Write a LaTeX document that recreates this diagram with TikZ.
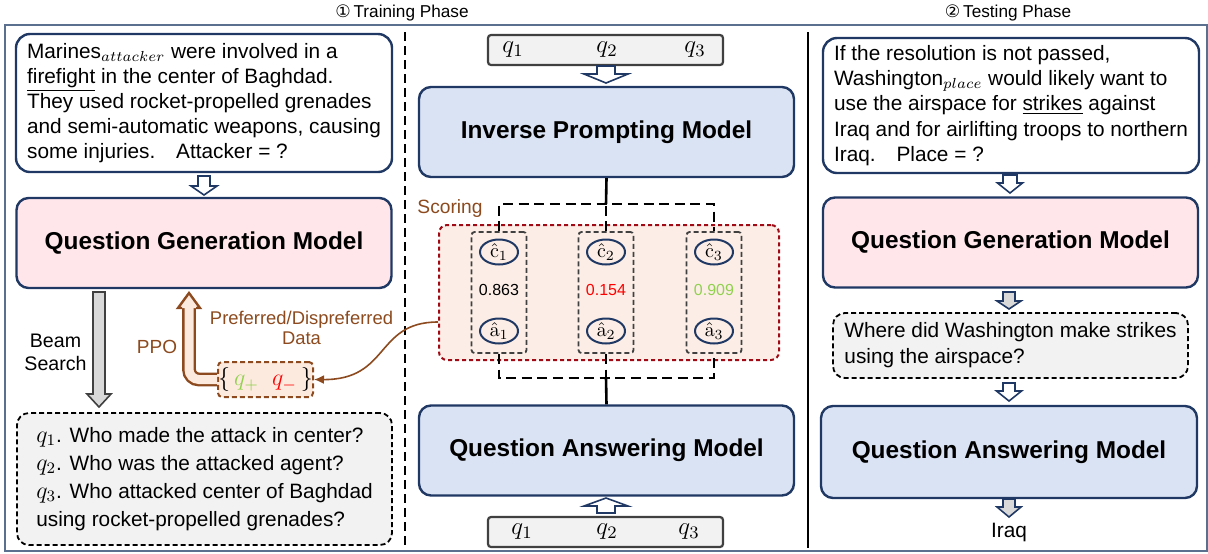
\RequirePackage{fix-cm}
\documentclass[tikz,border=0pt]{standalone}
\usepackage[no-math]{fontspec}
\setmainfont{Liberation Sans}
\newfontfamily\dejavu{DejaVu Sans}
\usetikzlibrary{arrows.meta,shapes.geometric,calc}
\definecolor{navy}{HTML}{203864}
\definecolor{pinkfill}{HTML}{FFE6EB}
\definecolor{bluefill}{HTML}{DAE3F3}
\definecolor{qgray}{HTML}{F2F2F2}
\definecolor{dgray}{HTML}{404040}
\definecolor{peach}{HTML}{FCEEE6}
\definecolor{dred}{HTML}{A00A14}
\definecolor{brownc}{HTML}{8C4A1E}
\definecolor{ppofill}{HTML}{FDEADF}
\definecolor{qgreen}{HTML}{92D050}
\definecolor{beamgray}{HTML}{D9D9D9}
\definecolor{framec}{HTML}{5B6F8F}
% x, ytop, ybase, ytip, shaft half, head half, fill, draw
\newcommand{\blkarrow}[8]{\filldraw[draw=#8, fill=#7, line width=0.8pt, line join=miter]
  (#1-#5,#2) -- (#1+#5,#2) -- (#1+#5,#3) -- (#1+#6,#3) -- (#1,#4) -- (#1-#6,#3) -- (#1-#5,#3) -- cycle;}
\newcommand{\bq}[1]{{\fontsize{12}{12}\selectfont$q_{#1}$}}
\begin{document}
\begin{tikzpicture}[x=0.5pt,y=-0.5pt,
  ctx/.style={draw=navy, line width=1.2pt, rounded corners=7pt, fill=white, align=left, inner sep=0pt,
    font=\fontsize{10.4}{12.5}\selectfont},
  model/.style={draw=navy, line width=1.2pt, rounded corners=6pt, inner sep=0pt,
    font=\fontsize{12.2}{14}\selectfont\bfseries, minimum width=187.5pt, minimum height=45pt},
  qsbox/.style={draw=black, line width=0.9pt, dash pattern=on 2.5pt off 1.5pt, rounded corners=6pt,
    fill=qgray, align=left, inner sep=0pt},
  qline/.style={draw=dgray, line width=1.1pt, rounded corners=1.5pt, fill=qgray, inner sep=0pt,
    minimum width=117.5pt, minimum height=15pt},
  colbox/.style={draw=dgray, line width=0.9pt, dash pattern=on 2.5pt off 1.5pt, rounded corners=1.5pt,
    inner sep=0pt, minimum width=27.5pt, minimum height=60.5pt},
  ell/.style={draw=navy, ellipse, line width=1pt, inner sep=0pt, minimum width=19pt, minimum height=12.5pt,
    font=\fontsize{10}{11}\selectfont},
  score/.style={font=\fontsize{8}{10}\selectfont, inner sep=0pt},
  tdash/.style={line width=1.3pt, dash pattern=on 5pt off 2.8pt},
  tsolid/.style={line width=1.3pt},
  qsym/.style={inner sep=0pt, font=\fontsize{12.5}{14}\selectfont},
  lbl/.style={inner sep=0pt, align=center},
]
\useasboundingbox (0,0) rectangle (1208,553);

% titles and frame
\node[font=\fontsize{8.6}{10}\selectfont, inner sep=0pt] (t1) at (402,13) {{\dejavu ①}\,Training Phase};
\node[font=\fontsize{8.6}{10}\selectfont, inner sep=0pt] (t2) at (1008,13) {{\dejavu ②}\,Testing Phase};
\draw[framec, line width=0.6pt] (5,25) rectangle (1207,551);
\draw[line width=1.3pt, dash pattern=on 4.5pt off 2.5pt] (405,32) -- (405,548);
\draw[line width=1.1pt] (808,32) -- (808,548);

% ---------------- left panel ----------------
\node[ctx, minimum width=188pt, minimum height=69pt] (lctx) at (204,103)
 {Marines$_{attacker}$ were involved in a\\
  \underline{firefight} in the center of Baghdad.\\
  They used rocket-propelled grenades\\
  and semi-automatic weapons, causing\\
  some injuries.\quad Attacker = ?};
\node[model, fill=pinkfill] (lqg) at (204,243) {Question Generation Model};
\node[qsbox, minimum width=187.5pt, minimum height=66pt,
  font=\fontsize{10.4}{14}\selectfont] (qs) at (204.5,479)
 {\bq{1}. Who made the attack in center?\\
  \bq{2}. Who was the attacked agent?\\
  \bq{3}. Who attacked center of Baghdad\\
  using rocket-propelled grenades?};
\node[draw=brownc, line width=1pt, dash pattern=on 2.5pt off 1.5pt, rounded corners=2pt, fill=ppofill,
  minimum width=47.5pt, minimum height=17.5pt, inner sep=0pt, font=\fontsize{12}{13}\selectfont]
  (qpm) at (265.5,379.5) {$\{$\,\textcolor{qgreen}{$q_+$}\;\;\textcolor{red}{$q_-$}\,$\}$};

\blkarrow{204}{176}{186}{195}{6}{13}{white}{navy}
\blkarrow{99}{292}{394}{407}{6}{12}{beamgray}{dgray}
\node[lbl, font=\fontsize{9.8}{11.5}\selectfont] (beam) at (55.5,352) {Beam\\Search};

% PPO arrow
\draw[brownc, line width=1.2pt, double=ppofill, double distance=4.5pt, rounded corners=5pt]
  (qpm.west) -| (189,308);
\fill[ppofill] (178,308) -- (189,293) -- (200,308) -- cycle;
\draw[brownc, line width=1.2pt, line join=miter] (182,308) -- (178,308) -- (189,293) -- (200,308) -- (196,308);
\node[lbl, text=brownc, font=\fontsize{9.5}{11}\selectfont] (ppo) at (157,347) {PPO};
\node[lbl, text=brownc, font=\fontsize{9.2}{10}\selectfont] (pref) at (301.5,328) {Preferred/Dispreferred\\Data};

% ---------------- middle panel ----------------
\node[qline] (qtop) at (605.5,50) {};
\node[qsym] (qt1) at (513,50) {$q_1$};
\node[qsym] (qt2) at (607,50) {$q_2$};
\node[qsym] (qt3) at (695,50) {$q_3$};
\blkarrow{606}{66}{74}{83}{9}{22}{white}{navy}
\node[model, fill=bluefill] (ipm) at (606.5,132) {Inverse Prompting Model};

\node[draw=dred, line width=1pt, dash pattern=on 2pt off 1.5pt, rounded corners=4pt, fill=peach,
  minimum width=170pt, minimum height=67.5pt, inner sep=0pt] (scoring) at (609,292.5) {};
\node[lbl, text=brownc, font=\fontsize{9.6}{11}\selectfont] (scorelbl) at (450,209) {Scoring};

\node[colbox] (col1) at (499,292.5) {};
\node[colbox] (col2) at (606,292.5) {};
\node[colbox] (col3) at (714,292.5) {};
\node[ell] (c1) at (499,252) {$\hat{\mathrm{c}}_1$};
\node[ell] (c2) at (606,252) {$\hat{\mathrm{c}}_2$};
\node[ell] (c3) at (714,252) {$\hat{\mathrm{c}}_3$};
\node[score] (s1) at (499,290) {0.863};
\node[score, text=red] (s2) at (606,290) {0.154};
\node[score, text=qgreen] (s3) at (714,290) {0.909};
\node[ell] (a1) at (499,331) {$\hat{\mathrm{a}}_1$};
\node[ell] (a2) at (606,331) {$\hat{\mathrm{a}}_2$};
\node[ell] (a3) at (714,331) {$\hat{\mathrm{a}}_3$};

\node[model, fill=bluefill] (mqa) at (606.5,450.5) {Question Answering Model};
\node[qline] (qbot) at (605.5,532) {};
\node[qsym] (qb1) at (522,532) {$q_1$};
\node[qsym] (qb2) at (607,532) {$q_2$};
\node[qsym] (qb3) at (689,532) {$q_3$};
\blkarrow{606}{513}{506}{498}{9}{22}{white}{navy}

\coordinate (jt) at (606,204);
\coordinate (jb) at (606,378);
\draw[tsolid] (ipm.south) -- (jt);
\draw[tdash] (col1.north) |- (jt) -| (col3.north);
\draw[tdash] (col2.north) -- (jt);
\draw[tdash] (col1.south) |- (jb) -| (col3.south);
\draw[tdash] (col2.south) -- (jb);
\draw[tsolid] (jb) -- (mqa.north);

% curved connector to preference data
\draw[brownc, line width=0.8pt, -{Latex[length=5pt,width=4.5pt]}]
  ([yshift=-14.75pt]scoring.west) .. controls (375,322) and (390,380) .. (qpm.east);

% ---------------- right panel ----------------
\node[ctx, minimum width=188pt, minimum height=67.5pt, font=\fontsize{10.4}{12.7}\selectfont] (rctx) at (1011,105.5)
 {If the resolution is not passed,\\
  Washington$_{place}$ would likely want to\\
  use the airspace for \underline{strikes} against\\
  Iraq and for airlifting troops to northern\\
  Iraq.\quad Place = ?};
\blkarrow{1010}{175}{183}{193}{7}{12.5}{white}{navy}
\node[model, fill=pinkfill] (rqg) at (1010.5,242.5) {Question Generation Model};
\blkarrow{1009}{292}{301}{309}{6}{12}{beamgray}{navy}
\node[qsbox, minimum width=177.5pt, minimum height=32.5pt, font=\fontsize{10.4}{13}\selectfont] (rq) at (1010.5,345.5)
 {Where did Washington make strikes\\using the airspace?};
\blkarrow{1009}{383}{391}{401}{6}{12.5}{white}{navy}
\node[model, fill=bluefill, minimum width=188pt, minimum height=46pt] (rqa) at (1009,452) {Question Answering Model};
\blkarrow{1009}{499}{507}{517}{6}{12}{beamgray}{navy}
\node[inner sep=0pt, font=\fontsize{10.4}{12}\selectfont] (iraq) at (1009,532) {Iraq};
\end{tikzpicture}
\end{document}
